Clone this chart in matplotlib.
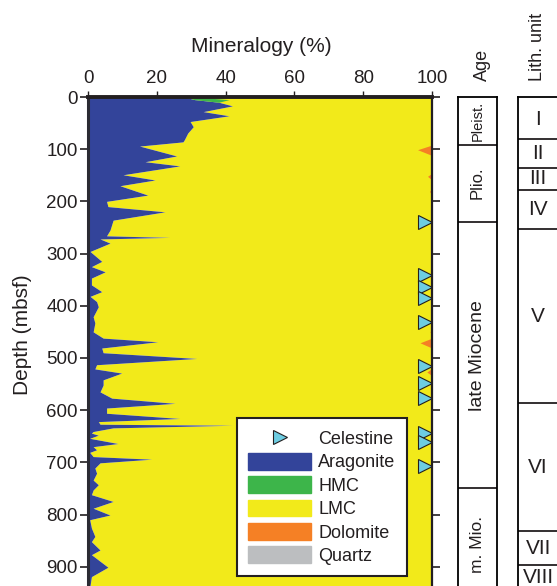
import numpy as np
import matplotlib.pyplot as plt
from matplotlib.patches import Patch
from matplotlib.lines import Line2D

plt.rcParams['font.family'] = ['Liberation Sans', 'DejaVu Sans']
plt.rcParams['text.color'] = '#231f20'
plt.rcParams['axes.labelcolor'] = '#231f20'
plt.rcParams['xtick.color'] = '#231f20'
plt.rcParams['ytick.color'] = '#231f20'

# Aragonite profile (depth in mbsf, % of bulk mineralogy)
depth = [0, 5, 10, 17, 28, 36, 47, 57, 69, 82, 86, 94, 113, 124, 132, 149, 159,
         170, 188, 200, 210, 220, 236, 255, 266, 269, 272, 280, 296, 315, 325,
         335, 347, 360, 373, 382, 392, 402, 421, 433, 450, 462, 469, 481, 490,
         501, 513, 521, 529, 542, 552, 565, 577, 587, 596, 606, 616, 622, 627,
         629, 634, 641, 644, 648, 654, 664, 670, 676, 681, 689, 694, 701, 711,
         721, 734, 743, 753, 762, 775, 788, 801, 810, 826, 842, 852, 868, 877,
         901, 919, 940]
aragonite = [28, 31, 38, 42, 33.5, 41, 29.7, 30.6, 29, 28, 27.6, 15, 25.8, 16.6,
             26.7, 10.2, 19.5, 9.3, 17.4, 5.4, 5.8, 22.4, 7.3, 6.4, 5.4, 23.8,
             3.5, 6.4, 0.6, 4, 1, 5, 1, 1, 4, 0.6, 2.5, 3, 1.5, 2, 1.5, 4.4,
             20.3, 4, 4.4, 31.6, 2.5, 2, 9.8, 4.4, 4.4, 3.5, 6.9, 25.3, 5.4,
             5.4, 26.7, 3, 3.5, 42, 7.3, 1.5, 1, 3, 0.5, 8.7, 1.5, 2.5, 0.5,
             1.5, 18.5, 3.5, 2, 2.5, 1.5, 3, 1.5, 1, 7.3, 1.5, 6.4, 0.5, 1, 2,
             1, 3.5, 1, 5.8, 1, 0.5]

# High-Mg calcite, only present near the top
hmc_depth = [0, 5, 10]
hmc = [3, 10, 0]

# Dolomite (drawn against the 100 % edge)
dol_depth = [0, 92, 101, 112, 146, 152, 159, 174, 181, 188, 445, 450, 455,
             462, 471, 481, 520, 527, 534, 940]
dolomite = [0, 0, 4.2, 0, 0, 1.3, 0, 0, 0.7, 0, 0, 0.6, 0, 0, 3.5, 0, 0, 1.5,
            0, 0]

quartz = [0, 0]
quartz_depth = [0, 940]

# Celestine occurrences
celestine_depth = [239, 341, 364, 385, 431, 515, 548, 577, 644, 661, 707]
celestine_x = 98

# Age and lithologic units
age_bounds = [0, 92, 240, 750, 1000]
age_names = ['Pleist.', 'Plio.', 'late Miocene', 'm. Mio.']
age_label_depth = [46, 165, 495, 858]
age_sizes = [10.5, 12, 14, 12.5]

lith_bounds = [0, 80, 136, 178, 253, 586, 831, 897, 1000]
lith_names = ['I', 'II', 'III', 'IV', 'V', 'VI', 'VII', 'VIII']
lith_label_depth = [44, 108, 157, 216, 420, 710, 865, 921]

c_arag = '#33449a'
c_hmc = '#3db54a'
c_lmc = '#f2ea1a'
c_dol = '#f58025'
c_qtz = '#bcbec0'
c_cel = '#6dcde2'

W, H = 557, 586
fig = plt.figure(figsize=(W / 100, H / 100), dpi=100)

top_px, bot_px = 97, 586
ymax = 937


def fx(px):
    return px / W


def fy(px):
    return 1 - px / H


ax = fig.add_axes([fx(88), fy(bot_px), fx(432) - fx(88), fy(top_px) - fy(bot_px)])

depth = np.array(depth, dtype=float)
aragonite = np.array(aragonite, dtype=float)
hmc_base = np.interp(hmc_depth, depth, aragonite)
hmc_top = hmc_base + np.array(hmc)
dol_left = 100 - np.array(dolomite)

# LMC fills everything between the aragonite and 100 %
ax.fill_betweenx(depth, aragonite, 100, color=c_lmc, lw=0)
ax.fill_betweenx(depth, 0, aragonite, color=c_arag, lw=0)
ax.fill_betweenx(hmc_depth, hmc_base, hmc_top, color=c_hmc, lw=0)
ax.fill_betweenx(dol_depth, dol_left, 100, color=c_dol, lw=0)
ax.fill_betweenx(quartz_depth, 100 - np.array(quartz), 100, color=c_qtz, lw=0)

ax.plot([celestine_x] * len(celestine_depth), celestine_depth, ls='none',
        marker='>', ms=10, mfc=c_cel, mec='#231f20', mew=0.8, clip_on=False)

ax.set_xlim(0, 100)
ax.set_ylim(ymax, 0)
ax.set_xticks([0, 20, 40, 60, 80, 100])
ax.set_yticks(np.arange(0, 901, 100))
ax.xaxis.tick_top()
ax.tick_params(axis='x', direction='out', length=4, width=1, labelsize=13.5, pad=3)
ax.tick_params(axis='y', direction='out', length=6, width=1.2, labelsize=13.5,
               pad=1.5, right=True)
ax.spines['top'].set_linewidth(2.8)
ax.spines['top'].set_color('#231f20')
ax.spines['left'].set_linewidth(2.2)
ax.spines['left'].set_color('#2b2b33')
ax.spines['right'].set_linewidth(1.6)
ax.spines['right'].set_color('#231f20')
ax.spines['bottom'].set_visible(False)

fig.text(fx(261), fy(46), 'Mineralogy (%)', ha='center', va='center', fontsize=15)
fig.text(fx(23), fy(335), 'Depth (mbsf)', ha='center', va='center',
         rotation=90, fontsize=15)

handles = [Line2D([], [], ls='none', marker='>', ms=10, mfc=c_cel,
                  mec='#231f20', mew=0.8),
           Patch(color=c_arag), Patch(color=c_hmc), Patch(color=c_lmc),
           Patch(color=c_dol), Patch(color=c_qtz)]
labels = ['Celestine', 'Aragonite', 'HMC', 'LMC', 'Dolomite', 'Quartz']
leg = ax.legend(handles, labels, loc='lower right',
                bbox_to_anchor=(0.927, 0.02), fontsize=13, handlelength=3.5,
                handleheight=1.05, labelspacing=0.27, handletextpad=0.4,
                borderpad=0.62, fancybox=False, framealpha=1, borderaxespad=0)
leg.get_frame().set_edgecolor('#231f20')
leg.get_frame().set_linewidth(1.5)

# Age column
ax_age = fig.add_axes([fx(458), fy(bot_px), fx(497) - fx(458),
                       fy(top_px) - fy(bot_px)])
ax_age.set_xlim(0, 1)
ax_age.set_ylim(ymax, 0)
ax_age.set_xticks([])
ax_age.set_yticks([])
for s in ['left', 'right', 'top']:
    ax_age.spines[s].set_linewidth(1.3)
ax_age.spines['bottom'].set_visible(False)
for b in age_bounds[1:-1]:
    ax_age.axhline(b, color='#231f20', lw=1.3)
for name, d, fs in zip(age_names, age_label_depth, age_sizes):
    ax_age.text(0.5, d, name, rotation=90, ha='center', va='center', fontsize=fs)
fig.text(fx(482), fy(81), 'Age', rotation=90, ha='center', va='bottom',
         fontsize=13)

# Lithologic unit column
ax_lith = fig.add_axes([fx(518), fy(bot_px), fx(560) - fx(518),
                        fy(top_px) - fy(bot_px)])
ax_lith.set_xlim(0, 1)
ax_lith.set_ylim(ymax, 0)
ax_lith.set_xticks([])
ax_lith.set_yticks([])
for s in ['left', 'top']:
    ax_lith.spines[s].set_linewidth(1.3)
ax_lith.spines['bottom'].set_visible(False)
ax_lith.spines['right'].set_visible(False)
for b in lith_bounds[1:-1]:
    ax_lith.axhline(b, color='#231f20', lw=1.3)
for name, d in zip(lith_names, lith_label_depth):
    ax_lith.text(0.48, d, name, ha='center', va='center', fontsize=15)
fig.text(fx(537), fy(81), 'Lith. unit', rotation=90, ha='center', va='bottom',
         fontsize=13)

fig.savefig('out.png', dpi=100)
